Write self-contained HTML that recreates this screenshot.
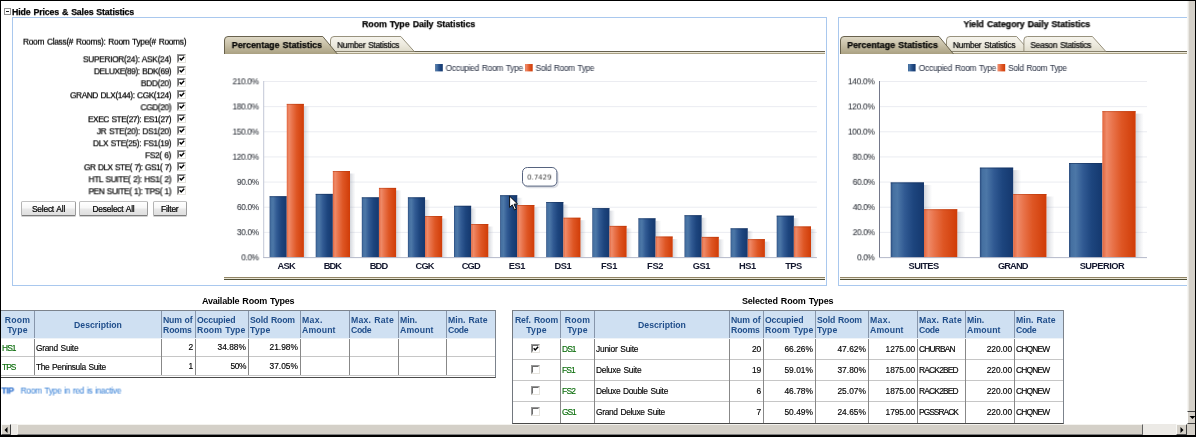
<!DOCTYPE html>
<html><head><meta charset="utf-8"><title>Hide Prices &amp; Sales Statistics</title>
<style>
html,body{margin:0;padding:0;}
body{width:1196px;height:437px;overflow:hidden;background:#000;position:relative;font-family:"Liberation Sans",sans-serif;font-size:8.4px;color:#000;}
#page{position:absolute;left:1px;top:1px;width:1194px;height:434px;background:#fff;overflow:hidden;}
.abs{position:absolute;white-space:pre;}
.t{position:absolute;white-space:pre;line-height:10px;height:10px;-webkit-text-stroke:0.22px;}
.b{font-weight:bold;font-size:8.8px;}
.panel{position:absolute;border:1px solid #a9c8ee;box-sizing:border-box;}
.cb{position:absolute;width:9px;height:9px;box-sizing:border-box;background:#fff;border:1px solid #969696;border-right-color:#e6e4de;border-bottom-color:#e6e4de;}
.cb i{position:absolute;left:0;top:0;width:7px;height:7px;box-sizing:border-box;border:1px solid #6c6c6c;border-right-color:#fff;border-bottom-color:#fff;}
.cb svg{position:absolute;left:0;top:0;}
.btn{position:absolute;box-sizing:border-box;border:1px solid #b4b4b4;border-top-color:#c2c2c2;border-bottom-color:#7c7c7c;border-right-color:#9c9c9c;border-radius:1.5px;background:linear-gradient(#ffffff 0%,#f7f7f7 48%,#e9e9e9 52%,#dfdfdf 100%);box-shadow:0 1px 0 rgba(0,0,0,0.18);text-align:center;line-height:13px;padding-top:1px;white-space:pre;-webkit-text-stroke:0.22px;}
table.g{position:absolute;border-collapse:collapse;table-layout:fixed;}
table.g th{background:#cfe0f2;color:#1f4d8a;font-weight:bold;font-size:8.7px;line-height:10.2px;padding:1px 0 0 1px;text-align:left;vertical-align:middle;border-left:1px solid #8796ab;border-bottom:1px solid #eef3f8;white-space:pre;overflow:hidden;}
table.g th.c{text-align:center;padding:1px 0 0 0;}
table.g td{padding:0 0 0 1px;border-left:1px solid #888;border-top:1px solid #c6c6c6;white-space:pre;overflow:hidden;vertical-align:middle;line-height:10px;-webkit-text-stroke:0.15px;}
table.g td.r{text-align:right;padding:0 2px 0 0;}
table.av td{padding-top:2px;}
table.g td.c{text-align:center;padding:0;}
table.g td.gr{color:#0a6c0a;}
</style></head><body><div id="page">

<div class="abs" style="left:3px;top:7px;width:7px;height:7px;box-sizing:border-box;border:1px solid #929292;background:#fff;"><div style="position:absolute;left:1px;top:2px;width:3px;height:1px;background:#222"></div></div>
<div class="t" style="left:11px;top:6px;transform:translate3d(0.00px,0.05px,0) rotate(0.001deg);font-weight:bold;-webkit-text-stroke:0.25px;font-size:8.8px;"><span style="letter-spacing:-0.151px;word-spacing:0.7px;">Hide Prices &amp; Sales Statistics</span></div>
<div class="panel" style="left:11px;top:16px;width:815px;height:269px;"></div>
<div class="panel" style="left:837px;top:16px;width:351px;height:269px;"></div>
<div class="t" style="left:22px;top:35px;transform:translate3d(0.00px,0.69px,0) rotate(0.001deg);font-size:8.4px;"><span style="letter-spacing:-0.293px;word-spacing:0.7px;">Room Class(# Rooms): Room Type(# Rooms)</span></div>
<div class="t" style="left:81px;top:53px;transform:translate3d(0.90px,0.29px,0) rotate(0.001deg);font-size:8.4px;"><span style="letter-spacing:-0.333px;word-spacing:0.7px;">SUPERIOR(24): ASK(24)</span></div>
<div class="cb" style="left:176px;top:53px;"><i></i><svg width="7" height="7" viewBox="0 0 7 7"><path d="M1.7 3.3 L3.2 4.9 L6.2 1.8" fill="none" stroke="#000" stroke-width="1.45"/></svg></div>
<div class="t" style="left:92px;top:65px;transform:translate3d(0.90px,0.29px,0) rotate(0.001deg);font-size:8.4px;"><span style="letter-spacing:-0.457px;word-spacing:0.7px;">DELUXE(89): BDK(69)</span></div>
<div class="cb" style="left:176px;top:65px;"><i></i><svg width="7" height="7" viewBox="0 0 7 7"><path d="M1.7 3.3 L3.2 4.9 L6.2 1.8" fill="none" stroke="#000" stroke-width="1.45"/></svg></div>
<div class="t" style="left:139px;top:77px;transform:translate3d(0.80px,0.29px,0) rotate(0.001deg);font-size:8.4px;"><span style="letter-spacing:-0.325px;">BDD(20)</span></div>
<div class="cb" style="left:176px;top:77px;"><i></i><svg width="7" height="7" viewBox="0 0 7 7"><path d="M1.7 3.3 L3.2 4.9 L6.2 1.8" fill="none" stroke="#000" stroke-width="1.45"/></svg></div>
<div class="t" style="left:69px;top:89px;transform:translate3d(0.00px,0.29px,0) rotate(0.001deg);font-size:8.4px;"><span style="letter-spacing:-0.462px;word-spacing:0.7px;">GRAND DLX(144): CGK(124)</span></div>
<div class="cb" style="left:176px;top:89px;"><i></i><svg width="7" height="7" viewBox="0 0 7 7"><path d="M1.7 3.3 L3.2 4.9 L6.2 1.8" fill="none" stroke="#000" stroke-width="1.45"/></svg></div>
<div class="t" style="left:139px;top:101px;transform:translate3d(0.50px,0.29px,0) rotate(0.001deg);font-size:8.4px;"><span style="letter-spacing:-0.417px;">CGD(20)</span></div>
<div class="cb" style="left:176px;top:101px;"><i></i><svg width="7" height="7" viewBox="0 0 7 7"><path d="M1.7 3.3 L3.2 4.9 L6.2 1.8" fill="none" stroke="#000" stroke-width="1.45"/></svg></div>
<div class="t" style="left:87px;top:113px;transform:translate3d(0.00px,0.29px,0) rotate(0.001deg);font-size:8.4px;"><span style="letter-spacing:-0.476px;word-spacing:0.7px;">EXEC STE(27): ES1(27)</span></div>
<div class="cb" style="left:176px;top:113px;"><i></i><svg width="7" height="7" viewBox="0 0 7 7"><path d="M1.7 3.3 L3.2 4.9 L6.2 1.8" fill="none" stroke="#000" stroke-width="1.45"/></svg></div>
<div class="t" style="left:95px;top:125px;transform:translate3d(0.80px,0.29px,0) rotate(0.001deg);font-size:8.4px;"><span style="letter-spacing:-0.352px;word-spacing:0.7px;">JR STE(20): DS1(20)</span></div>
<div class="cb" style="left:176px;top:125px;"><i></i><svg width="7" height="7" viewBox="0 0 7 7"><path d="M1.7 3.3 L3.2 4.9 L6.2 1.8" fill="none" stroke="#000" stroke-width="1.45"/></svg></div>
<div class="t" style="left:91px;top:137px;transform:translate3d(0.90px,0.29px,0) rotate(0.001deg);font-size:8.4px;"><span style="letter-spacing:-0.396px;word-spacing:0.7px;">DLX STE(25): FS1(19)</span></div>
<div class="cb" style="left:176px;top:137px;"><i></i><svg width="7" height="7" viewBox="0 0 7 7"><path d="M1.7 3.3 L3.2 4.9 L6.2 1.8" fill="none" stroke="#000" stroke-width="1.45"/></svg></div>
<div class="t" style="left:144px;top:149px;transform:translate3d(0.10px,0.29px,0) rotate(0.001deg);font-size:8.4px;"><span style="letter-spacing:-0.377px;word-spacing:0.7px;">FS2( 6)</span></div>
<div class="cb" style="left:176px;top:149px;"><i></i><svg width="7" height="7" viewBox="0 0 7 7"><path d="M1.7 3.3 L3.2 4.9 L6.2 1.8" fill="none" stroke="#000" stroke-width="1.45"/></svg></div>
<div class="t" style="left:82px;top:161px;transform:translate3d(0.90px,0.29px,0) rotate(0.001deg);font-size:8.4px;"><span style="letter-spacing:-0.550px;word-spacing:0.7px;">GR DLX STE( 7): GS1( 7)</span></div>
<div class="cb" style="left:176px;top:161px;"><i></i><svg width="7" height="7" viewBox="0 0 7 7"><path d="M1.7 3.3 L3.2 4.9 L6.2 1.8" fill="none" stroke="#000" stroke-width="1.45"/></svg></div>
<div class="t" style="left:87px;top:173px;transform:translate3d(0.50px,0.29px,0) rotate(0.001deg);font-size:8.4px;"><span style="letter-spacing:-0.399px;word-spacing:0.7px;">HTL SUITE( 2): HS1( 2)</span></div>
<div class="cb" style="left:176px;top:173px;"><i></i><svg width="7" height="7" viewBox="0 0 7 7"><path d="M1.7 3.3 L3.2 4.9 L6.2 1.8" fill="none" stroke="#000" stroke-width="1.45"/></svg></div>
<div class="t" style="left:87px;top:185px;transform:translate3d(0.50px,0.29px,0) rotate(0.001deg);font-size:8.4px;"><span style="letter-spacing:-0.470px;word-spacing:0.7px;">PEN SUITE( 1): TPS( 1)</span></div>
<div class="cb" style="left:176px;top:185px;"><i></i><svg width="7" height="7" viewBox="0 0 7 7"><path d="M1.7 3.3 L3.2 4.9 L6.2 1.8" fill="none" stroke="#000" stroke-width="1.45"/></svg></div>
<div class="btn" style="left:20px;top:200px;width:55px;height:15px;"><span style="letter-spacing:-0.200px;word-spacing:0.7px;">Select All</span></div>
<div class="btn" style="left:78px;top:200px;width:69px;height:15px;"><span style="letter-spacing:-0.200px;word-spacing:0.7px;">Deselect All</span></div>
<div class="btn" style="left:151.5px;top:200px;width:34.5px;height:15px;"><span style="letter-spacing:-0.200px;">Filter</span></div>
<div class="t" style="left:361px;top:18px;transform:translate3d(0.10px,0.15px,0) rotate(0.001deg);font-weight:bold;-webkit-text-stroke:0.25px;font-size:8.8px;"><span style="letter-spacing:-0.045px;word-spacing:0.7px;">Room Type Daily Statistics</span></div>
<div class="t" style="left:962px;top:18px;transform:translate3d(0.50px,0.15px,0) rotate(0.001deg);font-weight:bold;-webkit-text-stroke:0.25px;font-size:8.8px;"><span style="letter-spacing:-0.058px;word-spacing:0.7px;">Yield Category Daily Statistics</span></div>
<svg class="abs" style="left:223px;top:34px" width="601" height="20" viewBox="224 35 601 20" font-family='"Liberation Sans", sans-serif'><defs><linearGradient id="ta224" x1="0" y1="0" x2="0" y2="1"><stop offset="0" stop-color="#dfd9c6"/><stop offset="0.45" stop-color="#c9c1a8"/><stop offset="1" stop-color="#aaa182"/></linearGradient><linearGradient id="ti224" x1="0" y1="0" x2="0" y2="1"><stop offset="0" stop-color="#f6f4ec"/><stop offset="0.5" stop-color="#eeebe0"/><stop offset="1" stop-color="#dfdbca"/></linearGradient></defs><rect x="224" y="51" width="601" height="1" fill="#676250"/><rect x="224" y="52" width="601" height="1" fill="#ebe7d6"/><rect x="224" y="53" width="601" height="1" fill="#aaa185"/><path d="M330.5 51.5 L330.5 40 Q330.5 36.5 334 36.5 L400.8 36.5 L414.3 51.5 Z" fill="url(#ti224)" stroke="#878069" stroke-width="0.85"/><path d="M224.5 54 L224.5 40 Q224.5 36.5 228 36.5 L322.8 36.5 L337.3 54 Z" fill="url(#ta224)" stroke="none"/><path d="M224.5 54 L224.5 40 Q224.5 36.5 228 36.5 L322.8 36.5 L337.3 54" fill="none" stroke="#625c47" stroke-width="0.95"/></svg>
<div class="t" style="left:336px;top:39px;transform:translate3d(0.20px,0.09px,0) rotate(0.001deg);font-size:8.4px;"><span style="letter-spacing:-0.254px;word-spacing:0.7px;">Number Statistics</span></div>
<div class="t" style="left:230px;top:39px;transform:translate3d(0.80px,0.05px,0) rotate(0.001deg);font-weight:bold;-webkit-text-stroke:0.25px;font-size:8.8px;"><span style="letter-spacing:0.024px;word-spacing:0.7px;">Percentage Statistics</span></div>
<svg class="abs" style="left:839px;top:34px" width="347" height="20" viewBox="840 35 347 20" font-family='"Liberation Sans", sans-serif'><defs><linearGradient id="ta840" x1="0" y1="0" x2="0" y2="1"><stop offset="0" stop-color="#dfd9c6"/><stop offset="0.45" stop-color="#c9c1a8"/><stop offset="1" stop-color="#aaa182"/></linearGradient><linearGradient id="ti840" x1="0" y1="0" x2="0" y2="1"><stop offset="0" stop-color="#f6f4ec"/><stop offset="0.5" stop-color="#eeebe0"/><stop offset="1" stop-color="#dfdbca"/></linearGradient></defs><rect x="840" y="51" width="347" height="1" fill="#676250"/><rect x="840" y="52" width="347" height="1" fill="#ebe7d6"/><rect x="840" y="53" width="347" height="1" fill="#aaa185"/><path d="M946.5 51.5 L946.5 40 Q946.5 36.5 950 36.5 L1016.6 36.5 L1030.1 51.5 Z" fill="url(#ti840)" stroke="#878069" stroke-width="0.85"/><path d="M1023.9 51.5 L1023.9 40 Q1023.9 36.5 1027.4 36.5 L1092.4 36.5 L1105.9 51.5 Z" fill="url(#ti840)" stroke="#878069" stroke-width="0.85"/><path d="M840.5 54 L840.5 40 Q840.5 36.5 844 36.5 L939 36.5 L953.5 54 Z" fill="url(#ta840)" stroke="none"/><path d="M840.5 54 L840.5 40 Q840.5 36.5 844 36.5 L939 36.5 L953.5 54" fill="none" stroke="#625c47" stroke-width="0.95"/></svg>
<div class="t" style="left:951px;top:39px;transform:translate3d(0.90px,0.09px,0) rotate(0.001deg);font-size:8.4px;"><span style="letter-spacing:-0.231px;word-spacing:0.7px;">Number Statistics</span></div>
<div class="t" style="left:1029px;top:39px;transform:translate3d(0.40px,0.09px,0) rotate(0.001deg);font-size:8.4px;"><span style="letter-spacing:-0.244px;word-spacing:0.7px;">Season Statistics</span></div>
<div class="t" style="left:846px;top:39px;transform:translate3d(0.30px,0.05px,0) rotate(0.001deg);font-weight:bold;-webkit-text-stroke:0.25px;font-size:8.8px;"><span style="letter-spacing:0.043px;word-spacing:0.7px;">Percentage Statistics</span></div>
<div class="abs" style="left:223px;top:276px;width:601px;height:1px;background:#918465"></div>
<div class="abs" style="left:223px;top:277px;width:601px;height:1px;background:#e8e4d2"></div>
<div class="abs" style="left:223px;top:278px;width:601px;height:1px;background:#515038"></div>
<div class="abs" style="left:839px;top:276px;width:347px;height:1px;background:#918465"></div>
<div class="abs" style="left:839px;top:277px;width:347px;height:1px;background:#e8e4d2"></div>
<div class="abs" style="left:839px;top:278px;width:347px;height:1px;background:#515038"></div>
<svg class="abs" style="left:224px;top:57px" width="600" height="218" viewBox="225 58 600 218" font-family='"Liberation Sans", sans-serif'><defs>
<linearGradient id="lb" x1="0" y1="0" x2="1" y2="0"><stop offset="0" stop-color="#28497c"/><stop offset="0.07" stop-color="#4570a1"/><stop offset="0.2" stop-color="#4c77a7"/><stop offset="0.42" stop-color="#315a93"/><stop offset="0.68" stop-color="#1d457e"/><stop offset="1" stop-color="#14386e"/></linearGradient>
<linearGradient id="lo" x1="0" y1="0" x2="1" y2="0"><stop offset="0" stop-color="#e2663e"/><stop offset="0.13" stop-color="#ef8a68"/><stop offset="0.3" stop-color="#e9744c"/><stop offset="0.58" stop-color="#de5624"/><stop offset="1" stop-color="#d03c07"/></linearGradient>
<linearGradient id="ls" x1="0" y1="0" x2="1" y2="0"><stop offset="0" stop-color="#7f8799" stop-opacity="0.34"/><stop offset="0.5" stop-color="#7f8799" stop-opacity="0.15"/><stop offset="1" stop-color="#7f8799" stop-opacity="0"/></linearGradient>
</defs><rect x="263.7" y="81.00" width="553.2" height="1" fill="#ebecf1"/><rect x="263.7" y="106.14" width="553.2" height="1" fill="#ebecf1"/><rect x="263.7" y="131.29" width="553.2" height="1" fill="#ebecf1"/><rect x="263.7" y="156.43" width="553.2" height="1" fill="#ebecf1"/><rect x="263.7" y="181.57" width="553.2" height="1" fill="#ebecf1"/><rect x="263.7" y="206.71" width="553.2" height="1" fill="#ebecf1"/><rect x="263.7" y="231.86" width="553.2" height="1" fill="#ebecf1"/><rect x="435.2" y="64" width="7.6" height="7.4" fill="url(#lb)"/><rect x="525.1" y="64" width="7.6" height="7.4" fill="url(#lo)"/><rect x="286.75" y="198.70" width="5.5" height="58.80" fill="url(#ls)"/><rect x="303.90" y="106.40" width="5.5" height="151.10" fill="url(#ls)"/><rect x="269.60" y="196.20" width="17.15" height="61.30" fill="url(#lb)"/><rect x="269.60" y="196.20" width="17.15" height="1" fill="#15305a" opacity="0.55"/><rect x="286.75" y="103.90" width="17.15" height="153.60" fill="url(#lo)"/><rect x="286.75" y="103.90" width="17.15" height="1" fill="#b03308" opacity="0.45"/><rect x="332.85" y="196.40" width="5.5" height="61.10" fill="url(#ls)"/><rect x="350.00" y="173.50" width="5.5" height="84.00" fill="url(#ls)"/><rect x="315.70" y="193.90" width="17.15" height="63.60" fill="url(#lb)"/><rect x="315.70" y="193.90" width="17.15" height="1" fill="#15305a" opacity="0.55"/><rect x="332.85" y="171.00" width="17.15" height="86.50" fill="url(#lo)"/><rect x="332.85" y="171.00" width="17.15" height="1" fill="#b03308" opacity="0.45"/><rect x="378.95" y="199.80" width="5.5" height="57.70" fill="url(#ls)"/><rect x="396.10" y="190.40" width="5.5" height="67.10" fill="url(#ls)"/><rect x="361.80" y="197.30" width="17.15" height="60.20" fill="url(#lb)"/><rect x="361.80" y="197.30" width="17.15" height="1" fill="#15305a" opacity="0.55"/><rect x="378.95" y="187.90" width="17.15" height="69.60" fill="url(#lo)"/><rect x="378.95" y="187.90" width="17.15" height="1" fill="#b03308" opacity="0.45"/><rect x="425.05" y="199.80" width="5.5" height="57.70" fill="url(#ls)"/><rect x="442.20" y="218.50" width="5.5" height="39.00" fill="url(#ls)"/><rect x="407.90" y="197.30" width="17.15" height="60.20" fill="url(#lb)"/><rect x="407.90" y="197.30" width="17.15" height="1" fill="#15305a" opacity="0.55"/><rect x="425.05" y="216.00" width="17.15" height="41.50" fill="url(#lo)"/><rect x="425.05" y="216.00" width="17.15" height="1" fill="#b03308" opacity="0.45"/><rect x="471.15" y="208.30" width="5.5" height="49.20" fill="url(#ls)"/><rect x="488.30" y="226.50" width="5.5" height="31.00" fill="url(#ls)"/><rect x="454.00" y="205.80" width="17.15" height="51.70" fill="url(#lb)"/><rect x="454.00" y="205.80" width="17.15" height="1" fill="#15305a" opacity="0.55"/><rect x="471.15" y="224.00" width="17.15" height="33.50" fill="url(#lo)"/><rect x="471.15" y="224.00" width="17.15" height="1" fill="#b03308" opacity="0.45"/><rect x="517.25" y="197.70" width="5.5" height="59.80" fill="url(#ls)"/><rect x="534.40" y="207.50" width="5.5" height="50.00" fill="url(#ls)"/><rect x="500.10" y="195.20" width="17.15" height="62.30" fill="url(#lb)"/><rect x="500.10" y="195.20" width="17.15" height="1" fill="#15305a" opacity="0.55"/><rect x="517.25" y="205.00" width="17.15" height="52.50" fill="url(#lo)"/><rect x="517.25" y="205.00" width="17.15" height="1" fill="#b03308" opacity="0.45"/><rect x="563.35" y="204.50" width="5.5" height="53.00" fill="url(#ls)"/><rect x="580.50" y="220.20" width="5.5" height="37.30" fill="url(#ls)"/><rect x="546.20" y="202.00" width="17.15" height="55.50" fill="url(#lb)"/><rect x="546.20" y="202.00" width="17.15" height="1" fill="#15305a" opacity="0.55"/><rect x="563.35" y="217.70" width="17.15" height="39.80" fill="url(#lo)"/><rect x="563.35" y="217.70" width="17.15" height="1" fill="#b03308" opacity="0.45"/><rect x="609.45" y="210.60" width="5.5" height="46.90" fill="url(#ls)"/><rect x="626.60" y="228.40" width="5.5" height="29.10" fill="url(#ls)"/><rect x="592.30" y="208.10" width="17.15" height="49.40" fill="url(#lb)"/><rect x="592.30" y="208.10" width="17.15" height="1" fill="#15305a" opacity="0.55"/><rect x="609.45" y="225.90" width="17.15" height="31.60" fill="url(#lo)"/><rect x="609.45" y="225.90" width="17.15" height="1" fill="#b03308" opacity="0.45"/><rect x="655.55" y="220.80" width="5.5" height="36.70" fill="url(#ls)"/><rect x="672.70" y="239.00" width="5.5" height="18.50" fill="url(#ls)"/><rect x="638.40" y="218.30" width="17.15" height="39.20" fill="url(#lb)"/><rect x="638.40" y="218.30" width="17.15" height="1" fill="#15305a" opacity="0.55"/><rect x="655.55" y="236.50" width="17.15" height="21.00" fill="url(#lo)"/><rect x="655.55" y="236.50" width="17.15" height="1" fill="#b03308" opacity="0.45"/><rect x="701.65" y="217.70" width="5.5" height="39.80" fill="url(#ls)"/><rect x="718.80" y="239.40" width="5.5" height="18.10" fill="url(#ls)"/><rect x="684.50" y="215.20" width="17.15" height="42.30" fill="url(#lb)"/><rect x="684.50" y="215.20" width="17.15" height="1" fill="#15305a" opacity="0.55"/><rect x="701.65" y="236.90" width="17.15" height="20.60" fill="url(#lo)"/><rect x="701.65" y="236.90" width="17.15" height="1" fill="#b03308" opacity="0.45"/><rect x="747.75" y="230.80" width="5.5" height="26.70" fill="url(#ls)"/><rect x="764.90" y="241.60" width="5.5" height="15.90" fill="url(#ls)"/><rect x="730.60" y="228.30" width="17.15" height="29.20" fill="url(#lb)"/><rect x="730.60" y="228.30" width="17.15" height="1" fill="#15305a" opacity="0.55"/><rect x="747.75" y="239.10" width="17.15" height="18.40" fill="url(#lo)"/><rect x="747.75" y="239.10" width="17.15" height="1" fill="#b03308" opacity="0.45"/><rect x="793.85" y="218.20" width="5.5" height="39.30" fill="url(#ls)"/><rect x="811.00" y="228.90" width="5.5" height="28.60" fill="url(#ls)"/><rect x="776.70" y="215.70" width="17.15" height="41.80" fill="url(#lb)"/><rect x="776.70" y="215.70" width="17.15" height="1" fill="#15305a" opacity="0.55"/><rect x="793.85" y="226.40" width="17.15" height="31.10" fill="url(#lo)"/><rect x="793.85" y="226.40" width="17.15" height="1" fill="#b03308" opacity="0.45"/><rect x="263.2" y="81.0" width="1" height="177.0" fill="#c3c7d6"/><rect x="263.2" y="257.1" width="553.7" height="1" fill="#b4b9c9"/><rect x="523.6" y="169.2" width="35" height="19" rx="5" fill="#8f96a8" opacity="0.30"/><rect x="522.5" y="167.5" width="34.4" height="18.6" rx="4.8" fill="#fff" stroke="#56637f" stroke-width="1"/><path d="M509.6 196.2 L509.6 207.4 L512.3 204.9 L514.5 209.9 L516.3 209.1 L514.1 204.2 L517.5 203.9 Z" fill="#fff" stroke="#000" stroke-width="0.9" stroke-linejoin="round"/></svg>
<div class="t" style="left:231px;top:75px;transform:translate3d(0.50px,0.34px,0) rotate(0.001deg);font-size:8.4px;color:#33373f;-webkit-text-stroke:0.08px;"><span style="letter-spacing:-0.368px;">210.0%</span></div>
<div class="t" style="left:231px;top:100px;transform:translate3d(0.50px,0.48px,0) rotate(0.001deg);font-size:8.4px;color:#33373f;-webkit-text-stroke:0.08px;"><span style="letter-spacing:-0.368px;">180.0%</span></div>
<div class="t" style="left:231px;top:125px;transform:translate3d(0.50px,0.63px,0) rotate(0.001deg);font-size:8.4px;color:#33373f;-webkit-text-stroke:0.08px;"><span style="letter-spacing:-0.368px;">150.0%</span></div>
<div class="t" style="left:231px;top:150px;transform:translate3d(0.50px,0.77px,0) rotate(0.001deg);font-size:8.4px;color:#33373f;-webkit-text-stroke:0.08px;"><span style="letter-spacing:-0.368px;">120.0%</span></div>
<div class="t" style="left:235px;top:175px;transform:translate3d(0.90px,0.91px,0) rotate(0.001deg);font-size:8.4px;color:#33373f;-webkit-text-stroke:0.08px;"><span style="letter-spacing:-0.390px;">90.0%</span></div>
<div class="t" style="left:235px;top:201px;transform:translate3d(0.90px,0.05px,0) rotate(0.001deg);font-size:8.4px;color:#33373f;-webkit-text-stroke:0.08px;"><span style="letter-spacing:-0.390px;">60.0%</span></div>
<div class="t" style="left:235px;top:226px;transform:translate3d(0.90px,0.20px,0) rotate(0.001deg);font-size:8.4px;color:#33373f;-webkit-text-stroke:0.08px;"><span style="letter-spacing:-0.390px;">30.0%</span></div>
<div class="t" style="left:240px;top:251px;transform:translate3d(0.30px,0.34px,0) rotate(0.001deg);font-size:8.4px;color:#33373f;-webkit-text-stroke:0.08px;"><span style="letter-spacing:-0.423px;">0.0%</span></div>
<div class="t" style="left:444px;top:61px;transform:translate3d(0.60px,0.99px,0) rotate(0.001deg);font-size:8.4px;color:#3a4152;-webkit-text-stroke:0.08px;"><span style="letter-spacing:-0.244px;word-spacing:0.7px;">Occupied Room Type</span></div>
<div class="t" style="left:534px;top:61px;transform:translate3d(0.60px,0.99px,0) rotate(0.001deg);font-size:8.4px;color:#3a4152;-webkit-text-stroke:0.08px;"><span style="letter-spacing:-0.319px;word-spacing:0.7px;">Sold Room Type</span></div>
<div class="t" style="left:276.55px;top:260px;font-weight:bold;-webkit-text-stroke:0.25px;font-size:9.3px;color:#14182f;-webkit-text-stroke:0;"><span style="letter-spacing:-0.680px;">ASK</span></div>
<div class="t" style="left:322.65px;top:260px;font-weight:bold;-webkit-text-stroke:0.25px;font-size:9.3px;color:#14182f;-webkit-text-stroke:0;"><span style="letter-spacing:-0.852px;">BDK</span></div>
<div class="t" style="left:368.75px;top:260px;font-weight:bold;-webkit-text-stroke:0.25px;font-size:9.3px;color:#14182f;-webkit-text-stroke:0;"><span style="letter-spacing:-0.852px;">BDD</span></div>
<div class="t" style="left:414.55px;top:260px;font-weight:bold;-webkit-text-stroke:0.25px;font-size:9.3px;color:#14182f;-webkit-text-stroke:0;"><span style="letter-spacing:-0.824px;">CGK</span></div>
<div class="t" style="left:460.65px;top:260px;font-weight:bold;-webkit-text-stroke:0.25px;font-size:9.3px;color:#14182f;-webkit-text-stroke:0;"><span style="letter-spacing:-0.824px;">CGD</span></div>
<div class="t" style="left:507.65px;top:260px;font-weight:bold;-webkit-text-stroke:0.25px;font-size:9.3px;color:#14182f;-webkit-text-stroke:0;"><span style="letter-spacing:-0.393px;">ES1</span></div>
<div class="t" style="left:553.55px;top:260px;font-weight:bold;-webkit-text-stroke:0.25px;font-size:9.3px;color:#14182f;-webkit-text-stroke:0;"><span style="letter-spacing:-0.431px;">DS1</span></div>
<div class="t" style="left:600.05px;top:260px;font-weight:bold;-webkit-text-stroke:0.25px;font-size:9.3px;color:#14182f;-webkit-text-stroke:0;"><span style="letter-spacing:-0.354px;">FS1</span></div>
<div class="t" style="left:646.05px;top:260px;font-weight:bold;-webkit-text-stroke:0.25px;font-size:9.3px;color:#14182f;-webkit-text-stroke:0;"><span style="letter-spacing:-0.288px;">FS2</span></div>
<div class="t" style="left:691.65px;top:260px;font-weight:bold;-webkit-text-stroke:0.25px;font-size:9.3px;color:#14182f;-webkit-text-stroke:0;"><span style="letter-spacing:-0.470px;">GS1</span></div>
<div class="t" style="left:737.95px;top:260px;font-weight:bold;-webkit-text-stroke:0.25px;font-size:9.3px;color:#14182f;-webkit-text-stroke:0;"><span style="letter-spacing:-0.431px;">HS1</span></div>
<div class="t" style="left:784.15px;top:260px;font-weight:bold;-webkit-text-stroke:0.25px;font-size:9.3px;color:#14182f;-webkit-text-stroke:0;"><span style="letter-spacing:-0.498px;">TPS</span></div>
<div class="t" style="left:526px;top:171px;transform:translate3d(0.20px,0.57px,0) rotate(0.001deg);font-size:7px;color:#3c3c3c;-webkit-text-stroke:0;"><span style="font-family:'DejaVu Sans',sans-serif;letter-spacing:-0.02px">0.7429</span></div>
<svg class="abs" style="left:840px;top:57px" width="345" height="218" viewBox="841 58 345 218" font-family='"Liberation Sans", sans-serif'><defs>
<linearGradient id="rb" x1="0" y1="0" x2="1" y2="0"><stop offset="0" stop-color="#28497c"/><stop offset="0.07" stop-color="#4570a1"/><stop offset="0.2" stop-color="#4c77a7"/><stop offset="0.42" stop-color="#315a93"/><stop offset="0.68" stop-color="#1d457e"/><stop offset="1" stop-color="#14386e"/></linearGradient>
<linearGradient id="ro" x1="0" y1="0" x2="1" y2="0"><stop offset="0" stop-color="#e2663e"/><stop offset="0.13" stop-color="#ef8a68"/><stop offset="0.3" stop-color="#e9744c"/><stop offset="0.58" stop-color="#de5624"/><stop offset="1" stop-color="#d03c07"/></linearGradient>
<linearGradient id="rs" x1="0" y1="0" x2="1" y2="0"><stop offset="0" stop-color="#7f8799" stop-opacity="0.34"/><stop offset="0.5" stop-color="#7f8799" stop-opacity="0.15"/><stop offset="1" stop-color="#7f8799" stop-opacity="0"/></linearGradient>
</defs><rect x="879.5" y="81.00" width="267.5" height="1" fill="#ebecf1"/><rect x="879.5" y="106.14" width="267.5" height="1" fill="#ebecf1"/><rect x="879.5" y="131.29" width="267.5" height="1" fill="#ebecf1"/><rect x="879.5" y="156.43" width="267.5" height="1" fill="#ebecf1"/><rect x="879.5" y="181.57" width="267.5" height="1" fill="#ebecf1"/><rect x="879.5" y="206.71" width="267.5" height="1" fill="#ebecf1"/><rect x="879.5" y="231.86" width="267.5" height="1" fill="#ebecf1"/><rect x="908" y="64" width="7.6" height="7.4" fill="url(#rb)"/><rect x="997.6" y="64" width="7.6" height="7.4" fill="url(#ro)"/><rect x="924.00" y="184.90" width="8.0" height="72.60" fill="url(#rs)"/><rect x="957.30" y="211.70" width="8.0" height="45.80" fill="url(#rs)"/><rect x="890.70" y="182.40" width="33.30" height="75.10" fill="url(#rb)"/><rect x="890.70" y="182.40" width="33.30" height="1" fill="#15305a" opacity="0.55"/><rect x="924.00" y="209.20" width="33.30" height="48.30" fill="url(#ro)"/><rect x="924.00" y="209.20" width="33.30" height="1" fill="#b03308" opacity="0.45"/><rect x="1013.17" y="170.10" width="8.0" height="87.40" fill="url(#rs)"/><rect x="1046.47" y="196.50" width="8.0" height="61.00" fill="url(#rs)"/><rect x="979.87" y="167.60" width="33.30" height="89.90" fill="url(#rb)"/><rect x="979.87" y="167.60" width="33.30" height="1" fill="#15305a" opacity="0.55"/><rect x="1013.17" y="194.00" width="33.30" height="63.50" fill="url(#ro)"/><rect x="1013.17" y="194.00" width="33.30" height="1" fill="#b03308" opacity="0.45"/><rect x="1102.33" y="165.50" width="8.0" height="92.00" fill="url(#rs)"/><rect x="1135.63" y="113.60" width="8.0" height="143.90" fill="url(#rs)"/><rect x="1069.03" y="163.00" width="33.30" height="94.50" fill="url(#rb)"/><rect x="1069.03" y="163.00" width="33.30" height="1" fill="#15305a" opacity="0.55"/><rect x="1102.33" y="111.10" width="33.30" height="146.40" fill="url(#ro)"/><rect x="1102.33" y="111.10" width="33.30" height="1" fill="#b03308" opacity="0.45"/><rect x="879.0" y="81.0" width="1" height="177.0" fill="#74788a"/><rect x="879.0" y="257.1" width="268.0" height="1" fill="#b4b9c9"/></svg>
<div class="t" style="left:846px;top:75px;transform:translate3d(0.90px,0.34px,0) rotate(0.001deg);font-size:8.4px;color:#33373f;-webkit-text-stroke:0.08px;"><span style="letter-spacing:-0.301px;">140.0%</span></div>
<div class="t" style="left:846px;top:100px;transform:translate3d(0.90px,0.48px,0) rotate(0.001deg);font-size:8.4px;color:#33373f;-webkit-text-stroke:0.08px;"><span style="letter-spacing:-0.301px;">120.0%</span></div>
<div class="t" style="left:846px;top:125px;transform:translate3d(0.90px,0.63px,0) rotate(0.001deg);font-size:8.4px;color:#33373f;-webkit-text-stroke:0.08px;"><span style="letter-spacing:-0.301px;">100.0%</span></div>
<div class="t" style="left:851px;top:150px;transform:translate3d(0.70px,0.77px,0) rotate(0.001deg);font-size:8.4px;color:#33373f;-webkit-text-stroke:0.08px;"><span style="letter-spacing:-0.390px;">80.0%</span></div>
<div class="t" style="left:851px;top:175px;transform:translate3d(0.70px,0.91px,0) rotate(0.001deg);font-size:8.4px;color:#33373f;-webkit-text-stroke:0.08px;"><span style="letter-spacing:-0.390px;">60.0%</span></div>
<div class="t" style="left:851px;top:201px;transform:translate3d(0.70px,0.05px,0) rotate(0.001deg);font-size:8.4px;color:#33373f;-webkit-text-stroke:0.08px;"><span style="letter-spacing:-0.390px;">40.0%</span></div>
<div class="t" style="left:851px;top:226px;transform:translate3d(0.70px,0.20px,0) rotate(0.001deg);font-size:8.4px;color:#33373f;-webkit-text-stroke:0.08px;"><span style="letter-spacing:-0.390px;">20.0%</span></div>
<div class="t" style="left:856px;top:251px;transform:translate3d(0.10px,0.34px,0) rotate(0.001deg);font-size:8.4px;color:#33373f;-webkit-text-stroke:0.08px;"><span style="letter-spacing:-0.423px;">0.0%</span></div>
<div class="t" style="left:917px;top:61px;transform:translate3d(0.70px,0.99px,0) rotate(0.001deg);font-size:8.4px;color:#3a4152;-webkit-text-stroke:0.08px;"><span style="letter-spacing:-0.244px;word-spacing:0.7px;">Occupied Room Type</span></div>
<div class="t" style="left:1007px;top:61px;transform:translate3d(0.20px,0.99px,0) rotate(0.001deg);font-size:8.4px;color:#3a4152;-webkit-text-stroke:0.08px;"><span style="letter-spacing:-0.319px;word-spacing:0.7px;">Sold Room Type</span></div>
<div class="t" style="left:907.60px;top:260px;font-weight:bold;-webkit-text-stroke:0.25px;font-size:9.3px;color:#14182f;-webkit-text-stroke:0;"><span style="letter-spacing:-0.599px;">SUITES</span></div>
<div class="t" style="left:997.02px;top:260px;font-weight:bold;-webkit-text-stroke:0.25px;font-size:9.3px;color:#14182f;-webkit-text-stroke:0;"><span style="letter-spacing:-0.919px;">GRAND</span></div>
<div class="t" style="left:1078.63px;top:260px;font-weight:bold;-webkit-text-stroke:0.25px;font-size:9.3px;color:#14182f;-webkit-text-stroke:0;"><span style="letter-spacing:-0.495px;">SUPERIOR</span></div>
<div class="t" style="left:201.00px;top:295px;font-weight:bold;-webkit-text-stroke:0;font-size:9px;"><span style="letter-spacing:-0.202px;word-spacing:0.7px;">Available Room Types</span></div>
<div class="t" style="left:740.90px;top:295px;font-weight:bold;-webkit-text-stroke:0;font-size:9px;"><span style="letter-spacing:-0.146px;word-spacing:0.7px;">Selected Room Types</span></div>
<table class="g av" style="left:-1px;top:310px;width:495px;"><colgroup><col style="width:34px"><col style="width:127px"><col style="width:34px"><col style="width:53px"><col style="width:52px"><col style="width:49px"><col style="width:49px"><col style="width:48px"><col style="width:49px"></colgroup><tr style="height:27px"><th class="c"><span style="letter-spacing:0.169px;">Room</span><br><span style="letter-spacing:0.265px;">Type</span></th><th class="c"><span style="letter-spacing:0.009px;">Description</span></th><th class=""><span style="letter-spacing:-0.204px;word-spacing:0.7px;">Num of</span><br><span style="letter-spacing:-0.131px;">Rooms</span></th><th class=""><span style="letter-spacing:-0.162px;">Occupied</span><br><span style="letter-spacing:0.127px;word-spacing:0.7px;">Room Type</span></th><th class=""><span style="letter-spacing:-0.195px;word-spacing:0.7px;">Sold Room</span><br><span style="letter-spacing:0.265px;">Type</span></th><th class=""><span style="letter-spacing:0.343px;">Max.</span><br><span style="letter-spacing:0.131px;">Amount</span></th><th class=""><span style="letter-spacing:0.182px;word-spacing:0.7px;">Max. Rate</span><br><span style="letter-spacing:-0.355px;">Code</span></th><th class=""><span style="letter-spacing:-0.094px;">Min.</span><br><span style="letter-spacing:0.131px;">Amount</span></th><th class=""><span style="letter-spacing:0.019px;word-spacing:0.7px;">Min. Rate</span><br><span style="letter-spacing:-0.355px;">Code</span></th></tr><tr style="height:18px"><td class="gr"><span style="letter-spacing:-0.899px;">HS1</span></td><td class=""><span style="letter-spacing:-0.282px;word-spacing:0.7px;">Grand Suite</span></td><td class="r"><span style="letter-spacing:-0.200px;">2</span></td><td class="r"><span style="letter-spacing:0.016px;">34.88%</span></td><td class="r"><span style="letter-spacing:0.016px;">21.98%</span></td><td class=""></td><td class=""></td><td class=""></td><td class=""></td></tr><tr style="height:19px"><td class="gr"><span style="letter-spacing:-0.966px;">TPS</span></td><td class=""><span style="letter-spacing:-0.346px;word-spacing:0.7px;">The Peninsula Suite</span></td><td class="r"><span style="letter-spacing:-0.200px;">1</span></td><td class="r"><span style="letter-spacing:-0.422px;">50%</span></td><td class="r"><span style="letter-spacing:0.016px;">37.05%</span></td><td class=""></td><td class=""></td><td class=""></td><td class=""></td></tr></table><div class="abs" style="left:-1px;top:374px;width:495px;height:1px;background:#c6c6c6"></div><div class="abs" style="left:-1px;top:309px;width:496px;height:68px;box-sizing:border-box;border:1px solid #7c838c;border-bottom-color:#4a4a4a;border-left-color:#72777e;"></div>
<table class="g" style="left:511px;top:310px;width:551px;"><colgroup><col style="width:48px"><col style="width:34px"><col style="width:135px"><col style="width:34px"><col style="width:52px"><col style="width:53px"><col style="width:49px"><col style="width:48px"><col style="width:49px"><col style="width:49px"></colgroup><tr style="height:27px"><th class="c"><span style="letter-spacing:-0.115px;word-spacing:0.7px;">Ref. Room</span><br><span style="letter-spacing:0.265px;">Type</span></th><th class="c"><span style="letter-spacing:0.169px;">Room</span><br><span style="letter-spacing:0.265px;">Type</span></th><th class="c"><span style="letter-spacing:0.009px;">Description</span></th><th class=""><span style="letter-spacing:-0.204px;word-spacing:0.7px;">Num of</span><br><span style="letter-spacing:-0.131px;">Rooms</span></th><th class=""><span style="letter-spacing:-0.162px;">Occupied</span><br><span style="letter-spacing:0.127px;word-spacing:0.7px;">Room Type</span></th><th class=""><span style="letter-spacing:-0.195px;word-spacing:0.7px;">Sold Room</span><br><span style="letter-spacing:0.265px;">Type</span></th><th class=""><span style="letter-spacing:0.343px;">Max.</span><br><span style="letter-spacing:0.131px;">Amount</span></th><th class=""><span style="letter-spacing:0.182px;word-spacing:0.7px;">Max. Rate</span><br><span style="letter-spacing:-0.355px;">Code</span></th><th class=""><span style="letter-spacing:-0.094px;">Min.</span><br><span style="letter-spacing:0.131px;">Amount</span></th><th class=""><span style="letter-spacing:0.019px;word-spacing:0.7px;">Min. Rate</span><br><span style="letter-spacing:-0.355px;">Code</span></th></tr><tr style="height:21px"><td class="c"><span class="cb" style="position:relative;display:inline-block;vertical-align:middle;top:-1px;left:-1px"><i></i><svg width="7" height="7" viewBox="0 0 7 7"><path d="M1.7 3.3 L3.2 4.9 L6.2 1.8" fill="none" stroke="#000" stroke-width="1.45"/></svg></span></td><td class="gr"><span style="letter-spacing:-0.899px;">DS1</span></td><td class=""><span style="letter-spacing:-0.220px;word-spacing:0.7px;">Junior Suite</span></td><td class="r"><span style="letter-spacing:-0.200px;">20</span></td><td class="r"><span style="letter-spacing:0.032px;">66.26%</span></td><td class="r"><span style="letter-spacing:0.032px;">47.62%</span></td><td class="r"><span style="letter-spacing:-0.126px;">1275.00</span></td><td class=""><span style="letter-spacing:-0.803px;">CHURBAN</span></td><td class="r"><span style="letter-spacing:-0.054px;">220.00</span></td><td class=""><span style="letter-spacing:-0.793px;">CHQNEW</span></td></tr><tr style="height:21px"><td class="c"><span class="cb" style="position:relative;display:inline-block;vertical-align:middle;top:-1px;left:-1px"><i></i></span></td><td class="gr"><span style="letter-spacing:-0.858px;">FS1</span></td><td class=""><span style="letter-spacing:-0.233px;word-spacing:0.7px;">Deluxe Suite</span></td><td class="r"><span style="letter-spacing:-0.200px;">19</span></td><td class="r"><span style="letter-spacing:0.032px;">59.01%</span></td><td class="r"><span style="letter-spacing:0.032px;">37.80%</span></td><td class="r"><span style="letter-spacing:-0.126px;">1875.00</span></td><td class=""><span style="letter-spacing:-0.782px;">RACK2BED</span></td><td class="r"><span style="letter-spacing:-0.054px;">220.00</span></td><td class=""><span style="letter-spacing:-0.793px;">CHQNEW</span></td></tr><tr style="height:21px"><td class="c"><span class="cb" style="position:relative;display:inline-block;vertical-align:middle;top:-1px;left:-1px"><i></i></span></td><td class="gr"><span style="letter-spacing:-0.725px;">FS2</span></td><td class=""><span style="letter-spacing:-0.303px;word-spacing:0.7px;">Deluxe Double Suite</span></td><td class="r"><span style="letter-spacing:-0.200px;">6</span></td><td class="r"><span style="letter-spacing:0.032px;">46.78%</span></td><td class="r"><span style="letter-spacing:0.032px;">25.07%</span></td><td class="r"><span style="letter-spacing:-0.126px;">1875.00</span></td><td class=""><span style="letter-spacing:-0.782px;">RACK2BED</span></td><td class="r"><span style="letter-spacing:-0.054px;">220.00</span></td><td class=""><span style="letter-spacing:-0.793px;">CHQNEW</span></td></tr><tr style="height:22px"><td class="c"><span class="cb" style="position:relative;display:inline-block;vertical-align:middle;top:-1px;left:-1px"><i></i></span></td><td class="gr"><span style="letter-spacing:-0.989px;">GS1</span></td><td class=""><span style="letter-spacing:-0.311px;word-spacing:0.7px;">Grand Deluxe Suite</span></td><td class="r"><span style="letter-spacing:-0.200px;">7</span></td><td class="r"><span style="letter-spacing:0.032px;">50.49%</span></td><td class="r"><span style="letter-spacing:0.032px;">24.65%</span></td><td class="r"><span style="letter-spacing:-0.126px;">1795.00</span></td><td class=""><span style="letter-spacing:-0.956px;">PGSSRACK</span></td><td class="r"><span style="letter-spacing:-0.054px;">220.00</span></td><td class=""><span style="letter-spacing:-0.793px;">CHQNEW</span></td></tr></table><div class="abs" style="left:511px;top:309px;width:552px;height:114px;box-sizing:border-box;border:1px solid #7c838c;border-bottom-color:#4a4a4a;border-left-color:#72777e;"></div>
<div class="t" style="left:0px;top:384px;transform:translate3d(0.40px,0.45px,0) rotate(0.001deg);font-weight:bold;-webkit-text-stroke:0.25px;font-size:8.8px;color:#3a78cf;font-size:8.6px;"><span style="letter-spacing:-0.358px;">TIP</span></div>
<div class="t" style="left:19px;top:384px;transform:translate3d(0.60px,0.59px,0) rotate(0.001deg);font-size:8.4px;color:#4488d8;-webkit-text-stroke:0.08px;"><span style="letter-spacing:-0.287px;word-spacing:0.7px;">Room Type in red is inactive</span></div>
<div class="abs" style="left:0;top:423px;width:1186px;height:11px;background:#eceae6;"></div>
<div class="abs" style="left:0;top:423px;width:10px;height:11px;box-sizing:border-box;background:#d4d0c8;border:1px solid #f8f8f6;border-right-color:#404040;border-bottom-color:#505050;"><svg style="position:absolute;left:1px;top:1px" width="6" height="8" viewBox="0 0 6 8"><path d="M4.5 1 L1.5 4 L4.5 7 Z" fill="#000"/></svg></div>
<div class="abs" style="left:15.5px;top:423px;width:1126.5px;height:11px;box-sizing:border-box;background:#d4d0c8;border-top:1px solid #f4f3ef;border-left:1px solid #f4f3ef;border-right:1px solid #606060;border-bottom:1px solid #808080;"></div>
<div class="abs" style="left:1175px;top:423px;width:11px;height:11px;box-sizing:border-box;background:#d4d0c8;border:1px solid #f8f8f6;border-right-color:#404040;border-bottom-color:#505050;"><svg style="position:absolute;left:2px;top:1px" width="6" height="8" viewBox="0 0 6 8"><path d="M1.5 1 L4.5 4 L1.5 7 Z" fill="#000"/></svg></div>
<div class="abs" style="left:1186px;top:0;width:8px;height:410px;box-sizing:border-box;background:#d4d0c8;border-left:1px solid #f7f6f3;box-shadow:inset 1px 0 0 #e9e7e2;"></div>
<div class="abs" style="left:1186px;top:410px;width:8px;height:13px;box-sizing:border-box;background:#d4d0c8;border-top:1px solid #404040;border-bottom:1px solid #404040;border-left:1px solid #fff;"><svg style="position:absolute;left:1px;top:3px" width="7" height="5" viewBox="0 0 7 5"><path d="M0.5 1 L6.5 1 L3.5 4 Z" fill="#000"/></svg></div>
<div class="abs" style="left:1186px;top:423px;width:8px;height:11px;background:#d4d0c8;"></div>
</div></body></html>
